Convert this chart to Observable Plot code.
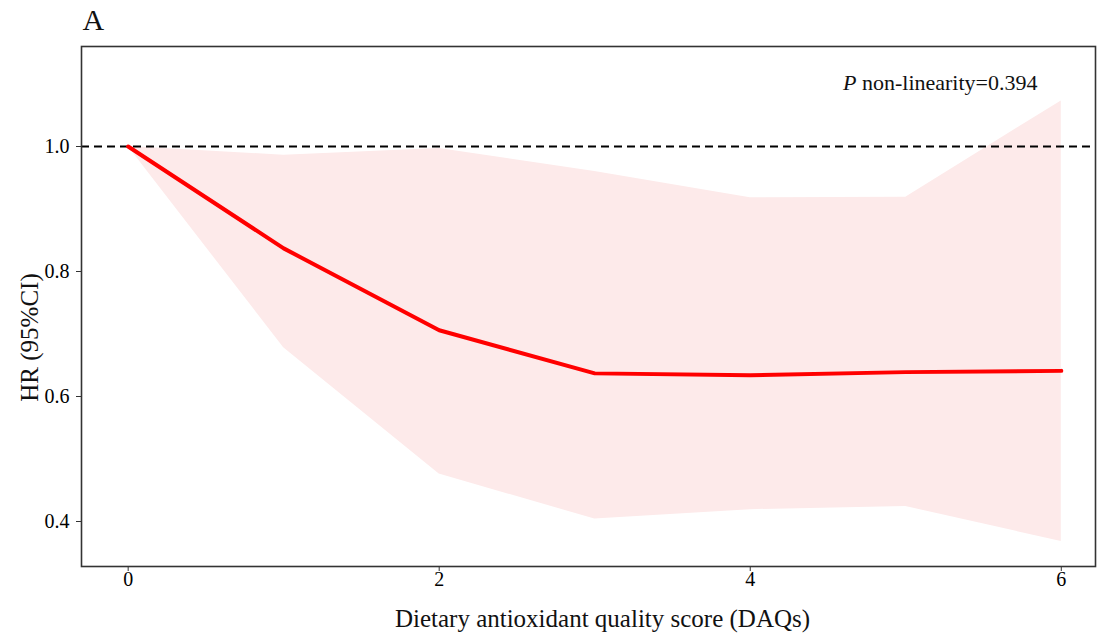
<!DOCTYPE html>
<html>
<head>
<meta charset="utf-8">
<script src="https://cdn.jsdelivr.net/npm/d3@7"></script>
<script src="https://cdn.jsdelivr.net/npm/@observablehq/plot@0.6"></script>
<style>
  html, body { margin: 0; padding: 0; background: #fff; }
  #chart svg { display: block; }
</style>
</head>
<body>
<div id="chart"></div>
<script>
// Dietary antioxidant quality score (DAQs)
const dqs = [0, 1, 2, 3, 4, 5, 6];
// Hazard ratio (restricted cubic spline estimate)
const hr = [1.000, 0.837, 0.706, 0.637, 0.634, 0.639, 0.641];
// 95% CI lower and upper
const lower = [1.000, 0.678, 0.476, 0.404, 0.419, 0.424, 0.368];
const upper = [1.000, 0.986, 0.997, 0.960, 0.918, 0.919, 1.073];
const xTicks = [0, 2, 4, 6];
const yTicks = [0.4, 0.6, 0.8, 1.0];
const refLine = [1];
const panelLabel = ["A"];
const annotation = ["P non-linearity=0.394"];
const xTitle = ["Dietary antioxidant quality score (DAQs)"];
const yTitle = ["HR (95%CI)"];

const data = dqs.map((d, i) => ({x: d, hr: hr[i], lo: lower[i], hi: upper[i]}));
const fmtX = d3.format("d");
const fmtY = d3.format(".1f");

const chart = Plot.plot({
  width: 1097,
  height: 641,
  marginLeft: 81,
  marginRight: 2,
  marginTop: 46,
  marginBottom: 75,
  style: {fontFamily: "'Liberation Serif', 'Times New Roman', serif", color: "#111", background: "#fff"},
  x: {domain: [-0.3, 6.22]},
  y: {domain: [0.328, 1.16]},
  marks: [
    Plot.areaY(data, {x: "x", y1: "lo", y2: "hi", fill: "#fdeaea"}),
    Plot.ruleY(refLine, {stroke: "#000", strokeWidth: 2, strokeDasharray: "8,5"}),
    Plot.line(data, {x: "x", y: "hr", stroke: "#ff0000", strokeWidth: 4}),
    Plot.frame({stroke: "#333", strokeWidth: 1.6}),
    Plot.axisX({ticks: xTicks, tickSize: 5, tickFormat: () => "", label: null, stroke: "#333"}),
    Plot.axisY({ticks: yTicks, tickSize: 5, tickFormat: () => "", label: null, stroke: "#333"}),
    Plot.text(xTicks, {x: d => d, text: d => fmtX(d), frameAnchor: "bottom", dy: 19, fontSize: 20, fill: "#000"}),
    Plot.text(yTicks, {y: d => d, text: d => fmtY(d), frameAnchor: "left", textAnchor: "end", dx: -12, fontSize: 20, fill: "#000"}),
    Plot.text(xTitle, {frameAnchor: "bottom", textAnchor: "middle", dx: 14, dy: 60, fontSize: 25, fill: "#111"}),
    Plot.text(yTitle, {frameAnchor: "left", textAnchor: "middle", dx: -52, dy: 31, rotate: -90, fontSize: 25, fill: "#111"}),
    Plot.text(panelLabel, {frameAnchor: "top-left", textAnchor: "start", dx: 1, dy: -38, fontSize: 30, fill: "#111"}),
    Plot.text(annotation, {frameAnchor: "top-right", textAnchor: "end", dx: -58, dy: 28, fontSize: 22, fill: "#111"})
  ]
});

document.getElementById("chart").appendChild(chart);

// Italicise the leading "P" of the annotation
d3.select(chart).selectAll("text").each(function() {
  const t = d3.select(this);
  if (t.text() === annotation[0]) {
    const parts = annotation[0].split(" ");
    t.text(null);
    t.append("tspan").attr("font-style", "italic").text(parts[0]);
    t.append("tspan").text(" " + parts.slice(1).join(" "));
  }
});
</script>
</body>
</html>
